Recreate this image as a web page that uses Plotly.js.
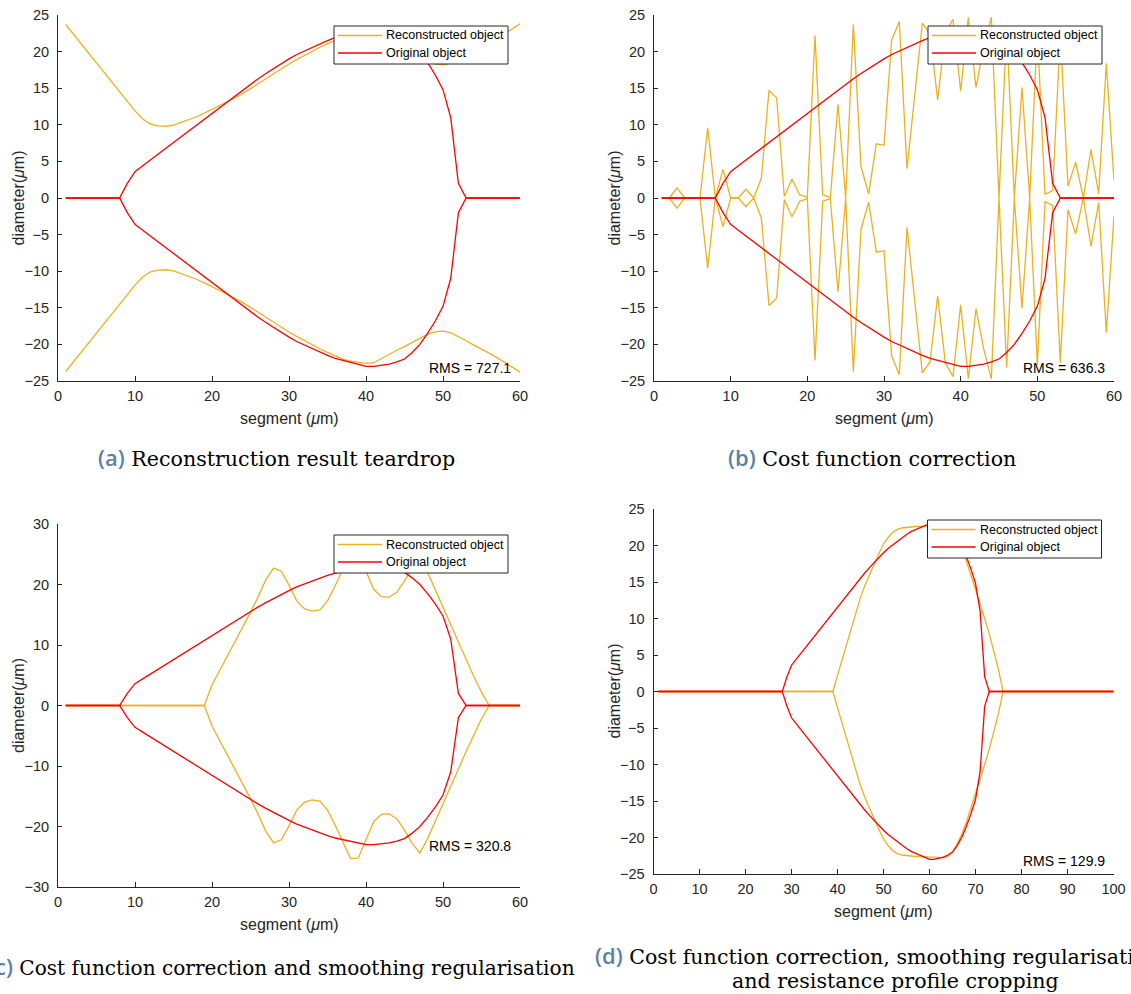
<!DOCTYPE html>
<html>
<head>
<meta charset="utf-8">
<script src="https://cdn.plot.ly/plotly-3.0.1.min.js"></script>
<style>
  html, body { margin: 0; padding: 0; background: #ffffff; }
  #chart { width: 1131px; height: 994px; }
</style>
</head>
<body>
<div id="chart"></div>
<script>
// ---------------- DATA ----------------
// Segment positions (µm)
const segA = Array.from({length: 60}, (_, i) => i + 1);   // 1..60
const segD = Array.from({length: 100}, (_, i) => i + 1);  // 1..100

// Original object half-diameter (upper contour; lower contour is its mirror)
const originalA = [0,0,0,0,0,0,0,0,2.0,3.6,
  4.4,5.2,6.0,6.8,7.6,8.4,9.2,10.0,10.8,11.6,
  12.4,13.2,14.0,14.8,15.6,16.3,17.0,17.7,18.4,19.0,
  19.6,20.1,20.6,21.1,21.5,21.9,22.2,22.5,22.8,23.0,
  23.0,22.9,22.7,22.4,22.0,21.1,20.0,18.5,16.8,14.8,
  11.0,2.0,0,0,0,0,0,0,0,0];

// (a) Reconstruction result teardrop
const reconA = [23.7,22.4,21.1,19.8,18.5,17.2,15.9,14.6,13.3,11.9,
  10.8,10.1,9.85,9.8,9.95,10.3,10.7,11.1,11.6,12.1,
  12.6,13.1,13.7,14.3,14.9,15.6,16.3,17.0,17.7,18.3,
  18.9,19.5,20.1,20.6,21.1,21.6,22.0,22.3,22.5,22.6,
  22.5,21.9,21.4,20.8,20.3,19.7,19.2,18.6,18.3,18.2,
  18.4,18.9,19.5,20.1,20.6,21.2,21.8,22.4,23.1,23.8];

// (b) Cost function correction
const reconB = [0,0,1.4,0,0,0,9.6,0,3.9,0,
  0,1.2,0,2.7,14.7,13.7,0.2,2.6,0.45,0.1,
  22.2,0.45,0.1,12.8,0,23.7,4.3,0.55,7.4,7.2,
  21.6,24.1,4.0,14.0,23.9,22.4,13.4,22.5,24.4,14.6,
  24.7,15.1,20.6,24.7,0,23.2,0,15.1,0,22.8,
  0.5,1.0,22.5,1.6,4.9,0,6.6,0.6,18.4,2.4];

// (c) Cost function correction and smoothing regularisation
const reconC = [0,0,0,0,0,0,0,0,0,0,
  0,0,0,0,0,0,0,0,0,3.4,
  5.8,8.2,10.5,12.9,15.4,18.0,20.8,22.7,22.2,19.9,
  17.3,16.0,15.6,15.8,17.3,19.8,22.6,25.3,25.2,22.1,
  19.2,18.0,17.9,18.7,20.6,22.8,24.4,22.0,19.2,16.3,
  13.4,10.5,7.6,4.8,2.2,0,0,0,0,0];

// (d) ... and resistance profile cropping (segments 1..100)
const originalD = [0,0,0,0,0,0,0,0,0,0,
  0,0,0,0,0,0,0,0,0,0,
  0,0,0,0,0,0,0,0,2.0,3.6,
  4.4,5.2,6.0,6.8,7.6,8.4,9.2,10.0,10.8,11.6,
  12.4,13.2,14.0,14.8,15.6,16.3,17.0,17.7,18.4,19.0,
  19.6,20.1,20.6,21.1,21.5,21.9,22.2,22.5,22.8,23.0,
  23.0,22.9,22.7,22.4,22.0,21.1,20.0,18.5,16.8,14.8,
  11.0,2.0,0,0,0,0,0,0,0,0,
  0,0,0,0,0,0,0,0,0,0,
  0,0,0,0,0,0,0,0,0,0];
const reconD = [0,0,0,0,0,0,0,0,0,0,
  0,0,0,0,0,0,0,0,0,0,
  0,0,0,0,0,0,0,0,0,0,
  0,0,0,0,0,0,0,0,0,2.2,
  4.4,6.6,8.8,11.0,12.9,14.6,16.1,17.6,18.9,20.2,
  21.1,21.8,22.2,22.4,22.5,22.5,22.6,22.6,22.7,22.7,
  22.7,22.8,22.8,22.6,22.0,20.9,19.6,17.9,16.0,14.0,
  12.0,10.0,7.9,5.6,3.0,0,0,0,0,0,
  0,0,0,0,0,0,0,0,0,0,
  0,0,0,0,0,0,0,0,0,0];

const rmsLabels = ['RMS = 727.1', 'RMS = 636.3', 'RMS = 320.8', 'RMS = 129.9'];
const legendNames = ['Reconstructed object', 'Original object'];
const xTitle = 'segment (<i>\u03bc</i>m)';
const yTitle = 'diameter(<i>\u03bc</i>m)';

// ---------------- LAYOUT HELPERS ----------------
const W = 1131, H = 994;
const px = v => v / W;           // pixel -> paper x
const py = v => 1 - v / H;       // pixel (from top) -> paper y
const ORANGE = '#EDB120', RED = '#FF0000', AXC = '#262626';
const FONT = 'Liberation Sans, Arial, Helvetica, sans-serif';

// plot boxes in pixels: [left, right, top, bottom]
const boxes = [
  [58, 520, 15, 381],
  [654, 1114, 15, 381],
  [58, 520, 524, 887],
  [653.5, 1113.5, 509, 874]
];
const panels = [
  {x: segA, orig: originalA, rec: reconA, xr: [0, 60], yr: [-25, 25], dt: 5, xdt: 10},
  {x: segA, orig: originalA, rec: reconB, xr: [0, 60], yr: [-25, 25], dt: 5, xdt: 10},
  {x: segA, orig: originalA, rec: reconC, xr: [0, 60], yr: [-30, 30], dt: 10, xdt: 10},
  {x: segD, orig: originalD, rec: reconD, xr: [0, 100], yr: [-25, 25], dt: 5, xdt: 10}
];

const traces = [];
const layout = {
  width: W, height: H,
  margin: {l: 0, r: 0, t: 0, b: 0},
  paper_bgcolor: '#ffffff', plot_bgcolor: '#ffffff',
  showlegend: false,
  font: {family: FONT, color: AXC},
  annotations: [],
  shapes: []
};

panels.forEach((p, i) => {
  const n = i === 0 ? '' : String(i + 1);
  const xa = 'x' + n, ya = 'y' + n;
  const neg = arr => arr.map(v => -v);
  traces.push({x: p.x, y: p.rec, xaxis: xa, yaxis: ya, type: 'scatter', mode: 'lines',
    name: legendNames[0], line: {color: ORANGE, width: 1.3}});
  traces.push({x: p.x, y: neg(p.rec), xaxis: xa, yaxis: ya, type: 'scatter', mode: 'lines',
    name: legendNames[0], line: {color: ORANGE, width: 1.3}});
  traces.push({x: p.x, y: p.orig, xaxis: xa, yaxis: ya, type: 'scatter', mode: 'lines',
    name: legendNames[1], line: {color: RED, width: 1.3}});
  traces.push({x: p.x, y: neg(p.orig), xaxis: xa, yaxis: ya, type: 'scatter', mode: 'lines',
    name: legendNames[1], line: {color: RED, width: 1.3}});

  const b = boxes[i];
  const common = {
    showline: true, linecolor: AXC, linewidth: 1, mirror: false,
    ticks: 'inside', tickcolor: AXC, tickwidth: 1,
    showgrid: false, zeroline: false, fixedrange: true,
    tickfont: {family: FONT, size: 14.5, color: AXC}
  };
  layout['xaxis' + n] = Object.assign({}, common, {
    domain: [px(b[0]), px(b[1])], anchor: ya, range: p.xr,
    tickmode: 'linear', tick0: 0, dtick: p.xdt, ticklen: 5, ticklabelstandoff: 2
  });
  layout['yaxis' + n] = Object.assign({}, common, {
    domain: [py(b[3]), py(b[2])], anchor: xa, range: p.yr,
    tickmode: 'linear', tick0: 0, dtick: p.dt, ticklen: 4, ticklabelstandoff: 5
  });

  // axis titles
  layout.annotations.push({xref: 'paper', yref: 'paper',
    x: px((b[0] + b[1]) / 2), y: py(b[3] + 37), xanchor: 'center', yanchor: 'middle',
    showarrow: false, text: xTitle, font: {family: FONT, size: 16, color: AXC}});
  layout.annotations.push({xref: 'paper', yref: 'paper',
    x: px(b[0] - 39.5), y: py((b[2] + b[3]) / 2), xanchor: 'center', yanchor: 'middle',
    textangle: -90, showarrow: false, text: yTitle, font: {family: FONT, size: 16, color: AXC}});

  // legend box (drawn as shapes + text, MATLAB style)
  const lx0 = b[1] - 186, lx1 = b[1] - 12, ly0 = b[2] + 11, ly1 = b[2] + 49;
  layout.shapes.push({type: 'rect', xref: 'paper', yref: 'paper',
    x0: px(lx0), x1: px(lx1), y0: py(ly0), y1: py(ly1),
    fillcolor: '#ffffff', line: {color: AXC, width: 1}, layer: 'above'});
  [[ORANGE, 20.5], [RED, 38]].forEach((e, k) => {
    layout.shapes.push({type: 'line', xref: 'paper', yref: 'paper',
      x0: px(lx0 + 4), x1: px(lx0 + 48), y0: py(b[2] + e[1]), y1: py(b[2] + e[1]),
      line: {color: e[0], width: 1.3}, layer: 'above'});
    layout.annotations.push({xref: 'paper', yref: 'paper',
      x: px(lx0 + 50), y: py(b[2] + e[1]), xanchor: 'left', yanchor: 'middle',
      showarrow: false, text: legendNames[k],
      font: {family: FONT, size: 12.5, color: '#000000'}});
  });

  layout.annotations.push({
    xref: xa + ' domain', yref: ya, x: 0.985, y: -23.2,
    xanchor: 'right', yanchor: 'middle', showarrow: false,
    text: rmsLabels[i], font: {family: FONT, size: 14, color: '#000000'}
  });
});

// ---------------- CAPTIONS ----------------
const lab = t => '<span style="font-family:Open Sans, sans-serif;font-weight:600;font-size:22px;color:#5b80aa">' + t + '</span>';
const captions = [
  {x: 96, y: 457, anchor: 'left', size: 20.6, text: lab('(a)') + ' Reconstruction result teardrop'},
  {x: 726, y: 457, anchor: 'left', size: 20.6, text: lab('(b)') + ' Cost function correction'},
  {x: 577, y: 966, anchor: 'right', size: 20.1, text: lab('(c)') + ' Cost function correction and smoothing regularisation'},
  {x: 593, y: 955, anchor: 'left', size: 20.6, text: lab('(d)') + ' Cost function correction, smoothing regularisation'},
  {x: 895, y: 981, anchor: 'center', size: 20.6, text: 'and resistance profile cropping'}
];
captions.forEach(c => layout.annotations.push({
  xref: 'paper', yref: 'paper', x: px(c.x), y: py(c.y), xanchor: c.anchor, yanchor: 'middle',
  showarrow: false, text: c.text,
  font: {family: 'DejaVu Serif, serif', size: c.size, color: '#000000'}
}));

Plotly.newPlot('chart', traces, layout, {staticPlot: true, displayModeBar: false});
</script>
</body>
</html>
